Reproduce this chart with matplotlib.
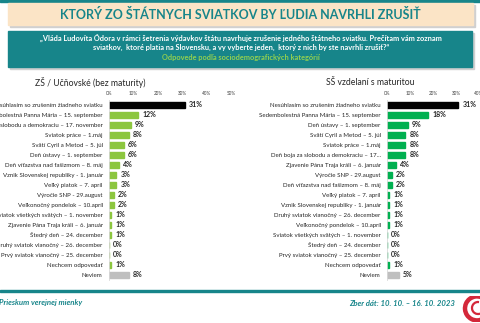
import matplotlib
matplotlib.use("Agg")
import matplotlib.pyplot as plt
from matplotlib.patches import Rectangle, Arc

# ---- data ---------------------------------------------------------------
left_title = "ZŠ / Učňovské (bez maturity)"
left_categories = [
    "Nesúhlasím so zrušením žiadneho sviatku",
    "Sedembolestná Panna Mária – 15. september",
    "Deň boja za slobodu a demokraciu – 17. november",
    "Sviatok práce – 1.máj",
    "Svätí Cyril a Metod – 5. júl",
    "Deň ústavy – 1. september",
    "Deň víťazstva nad fašizmom – 8. máj",
    "Vznik Slovenskej republiky - 1. január",
    "Veľký piatok – 7. apríl",
    "Výročie SNP - 29.august",
    "Veľkonočný pondelok – 10.apríl",
    "Sviatok všetkých svätých – 1. november",
    "Zjavenie Pána Traja králi – 6. január",
    "Štedrý deň – 24. december",
    "Druhý sviatok vianočný – 26. december",
    "Prvý sviatok vianočný – 25. december",
    "Nechcem odpovedať",
    "Neviem",
]
left_values = [31, 12, 9, 8, 6, 6, 4, 3, 3, 2, 2, 1, 1, 1, 0, 0, 1, 8]
left_ticks = [0, 10, 20, 30, 40, 50]

right_title = "SŠ vzdelaní s maturitou"
right_categories = [
    "Nesúhlasím so zrušením žiadneho sviatku",
    "Sedembolestná Panna Mária – 15. september",
    "Deň ústavy – 1. september",
    "Svätí Cyril a Metod – 5. júl",
    "Sviatok práce – 1.máj",
    "Deň boja za slobodu a demokraciu – 17...",
    "Zjavenie Pána Traja králi – 6. január",
    "Výročie SNP - 29.august",
    "Deň víťazstva nad fašizmom – 8. máj",
    "Veľký piatok – 7. apríl",
    "Vznik Slovenskej republiky - 1. január",
    "Druhý sviatok vianočný – 26. december",
    "Veľkonočný pondelok – 10.apríl",
    "Sviatok všetkých svätých – 1. november",
    "Štedrý deň – 24. december",
    "Prvý sviatok vianočný – 25. december",
    "Nechcem odpovedať",
    "Neviem",
]
right_values = [31, 18, 9, 8, 8, 8, 4, 2, 2, 1, 1, 1, 1, 0, 0, 0, 1, 5]
right_ticks = [0, 10, 20, 30, 40]

title = "KTORÝ ZO ŠTÁTNYCH SVIATKOV BY ĽUDIA NAVRHLI ZRUŠIŤ"
question_1 = ("„Vláda Ľudovíta Ódora v rámci šetrenia výdavkov štátu navrhuje zrušenie "
              "jedného štátneho sviatku. Prečítam vám zoznam")
question_2 = ("sviatkov,  ktoré platia na Slovensku, a vy vyberte jeden,  ktorý z nich "
              "by ste navrhli zrušiť?“")
question_note = "Odpovede podľa sociodemografických kategórií"
footer_left = "Prieskum verejnej mienky"
footer_right = "Zber dát: 10. 10. – 16. 10. 2023"

# ---- style --------------------------------------------------------------
W, H = 480, 323
TEAL = "#17858A"
BEIGE = "#FBE4C6"
GREEN_LIGHT = "#8CC63F"
GREEN_DARK = "#00B050"
GREY = "#BFBFBF"
TEXT = "#262626"

plt.rcParams['font.family'] = ['Lato', 'DejaVu Sans']

fig = plt.figure(figsize=(W / 100, H / 100), dpi=100)


def fx(x):
    return x / W


def fy(y):
    return 1 - y / H


def box(x0, y0, x1, y1, color, shadow=True):
    if shadow:
        fig.patches.append(Rectangle((fx(x0 + 2), fy(y1 + 2)), fx(x1 - x0), (y1 - y0) / H,
                                     transform=fig.transFigure, color="#D0D0D0", zorder=0))
    fig.patches.append(Rectangle((fx(x0), fy(y1)), fx(x1 - x0), (y1 - y0) / H,
                                 transform=fig.transFigure, color=color, zorder=1))


# header
fig.patches.append(Rectangle((0, fy(2)), 1, 2 / H, transform=fig.transFigure,
                             color=TEAL, zorder=1))
box(8, 3, 473, 25, BEIGE)
fig.text(fx(240), fy(14.5), title, ha='center', va='center', fontsize=9,
         fontweight='bold', color=TEAL)
box(8, 31, 472, 67, TEAL)
fig.text(fx(241), fy(38), question_1, ha='center', va='center', fontsize=5.3,
         fontweight='bold', color='white')
fig.text(fx(241), fy(47.5), question_2, ha='center', va='center', fontsize=5.3,
         fontweight='bold', color='white')
fig.text(fx(241), fy(57.5), question_note, ha='center', va='center', fontsize=5.3,
         fontweight='bold', color='#92D050')


def panel(x0, x1, cats, vals, colors, xmax, ticks, sub, sub_x):
    top, bottom = 99.5, 280
    ax = fig.add_axes([fx(x0), fy(bottom), fx(x1 - x0), (bottom - top) / H])
    ypos = list(range(len(cats)))
    ax.barh(ypos, vals, height=0.6, color=colors, edgecolor=colors, linewidth=1.0)
    ax.set_xlim(0, xmax)
    ax.set_ylim(len(cats) - 0.5, -0.5)
    ax.set_yticks(ypos)
    ax.set_yticklabels(cats, fontsize=4.4, color=TEXT)
    ax.tick_params(axis='y', length=0, pad=4.5)
    ax.xaxis.tick_top()
    ax.set_xticks(ticks)
    ax.set_xticklabels([f"{t}%" for t in ticks], fontsize=3.3, color='#404040')
    ax.tick_params(axis='x', length=0, pad=2.5)
    for s in ('top', 'right', 'bottom'):
        ax.spines[s].set_visible(False)
    ax.spines['left'].set_color('#D9D9D9')
    ax.spines['left'].set_linewidth(0.6)
    ax.patch.set_alpha(0)
    for yi, v in zip(ypos, vals):
        ax.annotate(f"{v}%", (v, yi), xytext=(3, 0), textcoords='offset points',
                    va='center', ha='left', fontsize=5, fontweight='bold', color=TEXT)
    fig.text(fx(sub_x), fy(82), sub, ha='center', va='center', fontsize=6.2,
             color=TEXT)
    return ax


def colours(n, main):
    return ['black'] + [main] * (n - 2) + [GREY]


panel(109, 231.5, left_categories, left_values,
      colours(len(left_values), GREEN_LIGHT), 50, left_ticks, left_title, 90)
panel(387, 479, right_categories, right_values,
      colours(len(right_values), GREEN_DARK), 40, right_ticks, right_title, 370)

# footer
fig.patches.append(Rectangle((0, fy(292)), 1, 1.6 / H, transform=fig.transFigure,
                             color=TEAL, zorder=1))
fig.text(fx(-1), fy(303), footer_left, ha='left', va='center', fontsize=5.6,
         fontweight='bold', style='italic', color=TEAL)
fig.text(fx(455), fy(303), footer_right, ha='right', va='center', fontsize=5.6,
         fontweight='bold', style='italic', color=TEAL)

# logo mark
lax = fig.add_axes([fx(462), fy(322), fx(20), 26 / H])
lax.set_xlim(0, 1)
lax.set_ylim(0, 1.3)
lax.axis('off')
lax.add_patch(Arc((0.75, 0.68), 1.2, 1.2, theta1=70, theta2=300, color='#D4283A', lw=3.2))
lax.add_patch(Arc((0.8, 0.7), 0.6, 0.6, theta1=80, theta2=290, color='#D4283A', lw=1.6))

fig.savefig("out.png", dpi=100)
